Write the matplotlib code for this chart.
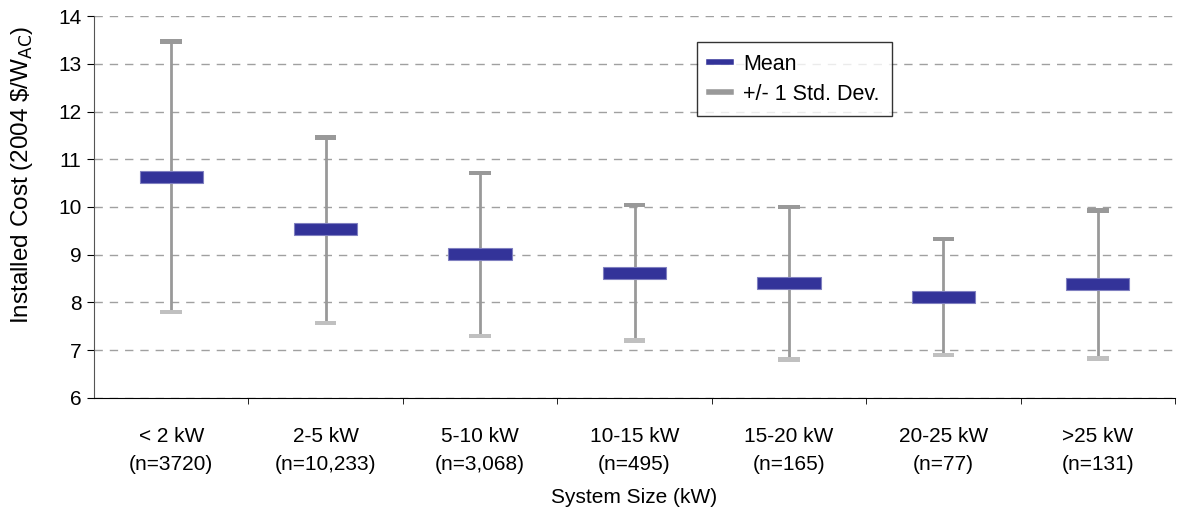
import numpy as np
import matplotlib.pyplot as plt
from matplotlib.lines import Line2D

plt.rcParams['font.family'] = ['Liberation Sans', 'DejaVu Sans']

categories = ['< 2 kW\n(n=3720)', '2-5 kW\n(n=10,233)', '5-10 kW\n(n=3,068)',
              '10-15 kW\n(n=495)', '15-20 kW\n(n=165)', '20-25 kW\n(n=77)',
              '>25 kW\n(n=131)']
mean = [10.63, 9.54, 9.02, 8.62, 8.41, 8.12, 8.39]
upper = [13.46, 11.45, 10.71, 10.04, 10.00, 9.33, 9.92]
lower = [7.80, 7.57, 7.30, 7.21, 6.80, 6.90, 6.82]

fig = plt.figure(figsize=(11.8, 5.13), dpi=100, facecolor='w')
ax = fig.add_axes([0.0797, 0.2242, 0.9161, 0.7446])

x = np.arange(len(categories))
ax.vlines(x, lower, upper, color='#999999', lw=2, zorder=2)
ax.bar(x, 0.1, bottom=np.array(upper) - 0.05, width=0.14, color='#999999', zorder=3)
ax.bar(x, 0.1, bottom=np.array(lower) - 0.05, width=0.14, color='#c0c0c0', zorder=3)
ax.bar(x, 0.26, bottom=np.array(mean) - 0.13, width=0.41, color='#333399',
       edgecolor='#8080c0', lw=0.8, zorder=4)

ax.set_ylim(6, 14)
ax.set_xlim(-0.5, len(categories) - 0.5)
ax.set_yticks(range(6, 15))
ax.yaxis.grid(True, ls=(0, (6, 5)), color='#a0a0a0', lw=1)
ax.set_axisbelow(True)
ax.set_xticks(x)
ax.set_xticklabels(categories, fontsize=15, linespacing=1.6)
ax.set_xticks(np.arange(len(categories)) + 0.5, minor=True)
ax.tick_params(axis='x', which='major', length=0, pad=21)
ax.tick_params(axis='x', which='minor', length=4, direction='out')
ax.tick_params(axis='y', labelsize=15, length=5, direction='out', pad=4)
for s in ['top', 'right']:
    ax.spines[s].set_visible(False)
ax.spines['left'].set_color('#555555')

ax.set_xlabel('System Size (kW)', fontsize=15, labelpad=10)
ax.set_ylabel(r'Installed Cost (2004 \$/W$_{\mathrm{AC}}$)', fontsize=17.5)
ax.yaxis.set_label_coords(-0.055, 0.585)

handles = [Line2D([], [], color='#333399', lw=4),
           Line2D([], [], color='#999999', lw=4)]
leg = ax.legend(handles, ['Mean', '+/- 1 Std. Dev.'], loc='upper left',
                bbox_to_anchor=(0.548, 0.96), fontsize=15.5, frameon=True,
                fancybox=False, handlelength=1.0, handletextpad=0.6,
                borderpad=0.55, borderaxespad=0.5, labelspacing=0.4)
leg.get_frame().set_edgecolor('black')
leg.get_frame().set_linewidth(1)

fig.savefig('out.png', dpi=100)
